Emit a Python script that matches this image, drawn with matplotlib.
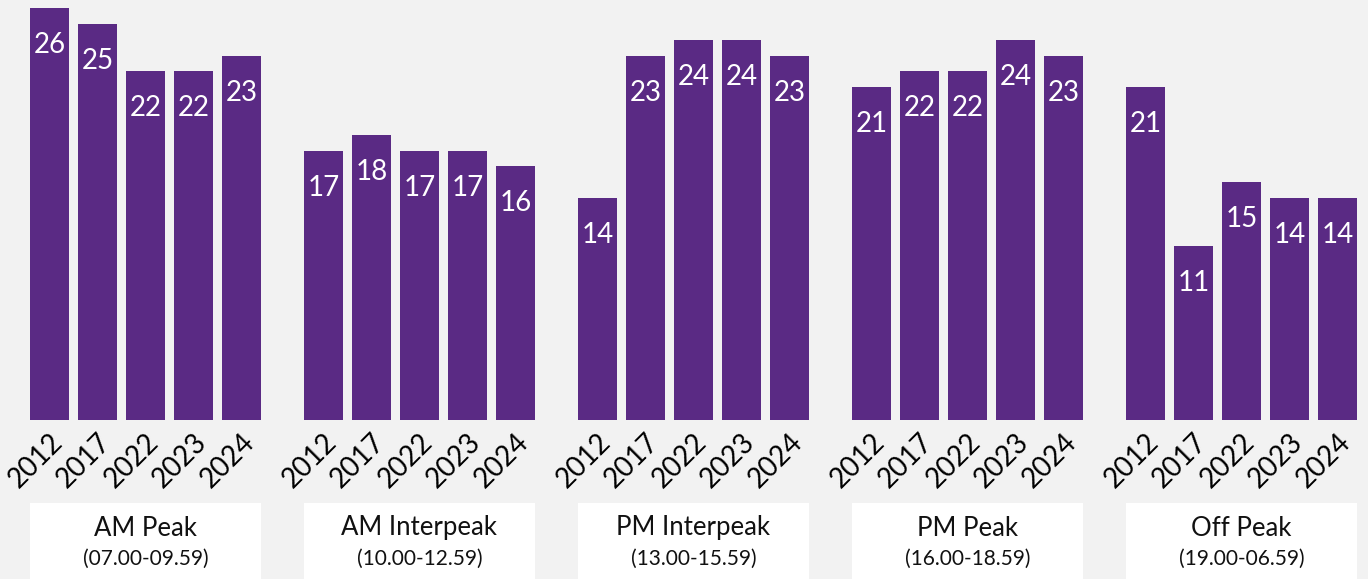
import matplotlib
matplotlib.use("Agg")
import matplotlib.pyplot as plt
from matplotlib.patches import Rectangle
from matplotlib.transforms import blended_transform_factory

plt.rcParams['font.family'] = ['Lato', 'DejaVu Sans']

groups = ["AM Peak", "AM Interpeak", "PM Interpeak", "PM Peak", "Off Peak"]
group_times = ["(07.00-09.59)", "(10.00-12.59)", "(13.00-15.59)", "(16.00-18.59)", "(19.00-06.59)"]
years = ["2012", "2017", "2022", "2023", "2024"]
values = {
    "AM Peak": [26, 25, 22, 22, 23],
    "AM Interpeak": [17, 18, 17, 17, 16],
    "PM Interpeak": [14, 23, 24, 24, 23],
    "PM Peak": [21, 22, 22, 24, 23],
    "Off Peak": [21, 11, 15, 14, 14],
}

BAR = "#5a2a84"
BG = "#f2f2f2"
W, H = 1368, 579
gstep = 274 / 48
bw = 39 / 48

fig = plt.figure(figsize=(W / 100, H / 100), dpi=100, facecolor=BG)
ax = fig.add_axes([0, 159 / H, 1, 420 / H])
ax.set_facecolor(BG)
ax.set_xlim(-49.5 / 48, (W - 49.5) / 48)
ax.set_ylim(0, 420 / (412 / 26))

xs, labels = [], []
for g, name in enumerate(groups):
    for i, (yr, v) in enumerate(zip(years, values[name])):
        x = g * gstep + i
        ax.bar(x, v, width=bw, color=BAR)
        ax.annotate(str(v), (x, v), xytext=(0, -37), textcoords='offset pixels',
                    ha='center', va='center', color='white', fontsize=20)
        xs.append(x)
        labels.append(yr)

ax.set_xticks(xs)
ax.set_xticklabels(labels, rotation=45, ha='right', rotation_mode='anchor', fontsize=20)
ax.tick_params(axis='x', length=0, pad=6)
ax.set_yticks([])
for s in ax.spines.values():
    s.set_visible(False)

trans = blended_transform_factory(ax.transData, fig.transFigure)
for g, name in enumerate(groups):
    x0 = g * gstep - bw / 2
    x1 = g * gstep + 4 + bw / 2
    ax.add_patch(Rectangle((x0, 0), x1 - x0, 76 / H, transform=trans,
                           facecolor='white', edgecolor='none', clip_on=False))
    xc = (x0 + x1) / 2
    ax.text(xc, 51 / H, name, transform=trans, ha='center', va='center', fontsize=18.5, color='#111111')
    ax.text(xc, 20 / H, group_times[g], transform=trans, ha='center', va='center', fontsize=15, color='#111111')

fig.savefig("out.png", dpi=100, facecolor=BG)
